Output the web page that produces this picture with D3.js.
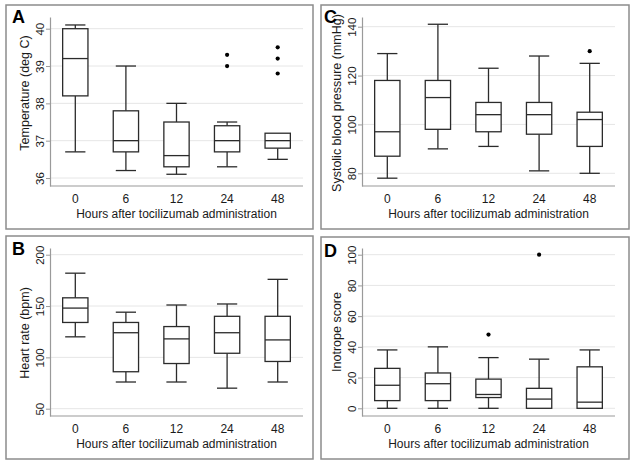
<!DOCTYPE html>
<html>
<head>
<meta charset="utf-8">
<script src="https://cdn.jsdelivr.net/npm/d3@7"></script>
<style>
  html, body { margin: 0; padding: 0; background: #fff; }
  svg { display: block; font-family: "Liberation Sans", Arial, Helvetica, sans-serif; }
</style>
</head>
<body>
<svg id="chart" width="635" height="465"></svg>
<script>
// ---------------- DATA ----------------
const categories = ["0", "6", "12", "24", "48"];
const xTitle = "Hours after tocilizumab administration";

// A: Temperature (deg C)
const tempLow  = [36.7, 36.2, 36.1, 36.3, 36.5];
const tempQ1   = [38.2, 36.7, 36.3, 36.7, 36.8];
const tempMed  = [39.2, 37.0, 36.6, 37.0, 37.0];
const tempQ3   = [40.0, 37.8, 37.5, 37.4, 37.2];
const tempHigh = [40.1, 39.0, 38.0, 37.5, 37.2];
const tempOutliers = [["24", 39.0], ["24", 39.3], ["48", 38.8], ["48", 39.2], ["48", 39.5]];
const tempTicks = [36, 37, 38, 39, 40];

// B: Heart rate (bpm)
const hrLow  = [120, 76, 76, 70, 76];
const hrQ1   = [134, 86, 94, 104, 96];
const hrMed  = [148, 124, 118, 124, 117];
const hrQ3   = [158, 134, 130, 140, 140];
const hrHigh = [182, 144, 151, 152, 176];
const hrOutliers = [];
const hrTicks = [50, 100, 150, 200];

// C: Systolic blood pressure (mmHg)
const sbpLow  = [78, 90, 91, 81, 80];
const sbpQ1   = [87, 98, 97, 96, 91];
const sbpMed  = [97, 111, 104, 104, 102];
const sbpQ3   = [118, 118, 109, 109, 105];
const sbpHigh = [129, 141, 123, 128, 125];
const sbpOutliers = [["48", 130]];
const sbpTicks = [80, 100, 120, 140];

// D: Inotrope score
const inoLow  = [0, 0, 0, 0, 0];
const inoQ1   = [5, 5, 7, 0, 0];
const inoMed  = [15, 16, 9, 6, 4];
const inoQ3   = [26, 23, 19, 13, 27];
const inoHigh = [38, 40, 33, 32, 38];
const inoOutliers = [["12", 48], ["24", 100]];
const inoTicks = [0, 20, 40, 60, 80, 100];

// ---------------- LAYOUT ----------------
const panels = [
  { letter: "A", yTitle: "Temperature (deg C)", low: tempLow, q1: tempQ1, med: tempMed, q3: tempQ3, high: tempHigh, out: tempOutliers, ticks: tempTicks,
    frame: [6, 5, 313, 229], x0: 50, x1: 303, top: 17, bottom: 186, tLo: 178, tHi: 28.7, titleCY: 93, letterPos: [12, 23] },
  { letter: "C", yTitle: "Systolic blood pressure (mmHg)", low: sbpLow, q1: sbpQ1, med: sbpMed, q3: sbpQ3, high: sbpHigh, out: sbpOutliers, ticks: sbpTicks,
    frame: [321, 5, 629, 229], x0: 362, x1: 615, top: 17, bottom: 186, tLo: 173.3, tHi: 26.7, titleCY: 103, letterPos: [324, 23] },
  { letter: "B", yTitle: "Heart rate (bpm)", low: hrLow, q1: hrQ1, med: hrMed, q3: hrQ3, high: hrHigh, out: hrOutliers, ticks: hrTicks,
    frame: [6, 236, 313, 459], x0: 50, x1: 303, top: 248, bottom: 416, tLo: 408.7, tHi: 254.7, titleCY: 333, letterPos: [12, 255] },
  { letter: "D", yTitle: "Inotrope score", low: inoLow, q1: inoQ1, med: inoMed, q3: inoQ3, high: inoHigh, out: inoOutliers, ticks: inoTicks,
    frame: [321, 237, 629, 459], x0: 362, x1: 615, top: 248, bottom: 416, tLo: 408.3, tHi: 254.7, titleCY: 332, letterPos: [324, 257] }
];

const svg = d3.select("#chart");
const textColor = "#1a1a1a";
const boxColor = "#2b2b2b";

panels.forEach(p => {
  const g = svg.append("g");

  // frame
  g.append("rect")
    .attr("x", p.frame[0]).attr("y", p.frame[1])
    .attr("width", p.frame[2] - p.frame[0]).attr("height", p.frame[3] - p.frame[1])
    .attr("fill", "#fff").attr("stroke", "#8c8c8c").attr("stroke-width", 1.5);

  // scales
  const tMin = d3.min(p.ticks), tMax = d3.max(p.ticks);
  const base = d3.scaleLinear().domain([tMin, tMax]).range([p.tLo, p.tHi]);
  const y = d3.scaleLinear().domain([base.invert(p.bottom), base.invert(p.top)]).range([p.bottom, p.top]);
  const x = d3.scaleBand().domain(categories).range([p.x0, p.x1]).paddingInner(0.5).paddingOuter(0.25);
  const bw = x.bandwidth();
  const capW = bw * 0.8;

  // gridlines
  g.append("g").selectAll("line").data(p.ticks).join("line")
    .attr("x1", p.x0).attr("x2", p.x1)
    .attr("y1", d => y(d)).attr("y2", d => y(d))
    .attr("stroke", "#e6e6e6").attr("stroke-width", 1);

  // y axis
  const yAxis = d3.axisLeft(y).tickValues(p.ticks).tickSize(4).tickSizeOuter(0).tickFormat(d3.format("d"));
  const ya = g.append("g").attr("transform", `translate(${p.x0},0)`).call(yAxis);
  ya.select(".domain").attr("stroke", "#9a9a9a").attr("stroke-width", 1.2);
  ya.selectAll(".tick line").attr("stroke", "#9a9a9a");
  ya.selectAll(".tick text")
    .attr("x", null).attr("dy", null)
    .attr("transform", "translate(-6.5,0) rotate(-90)")
    .attr("text-anchor", "middle")
    .attr("font-size", 11.5)
    .attr("fill", textColor)
    .style("font-family", '"Liberation Sans", Arial, sans-serif');

  // x axis
  const xAxis = d3.axisBottom(x).tickSize(0).tickSizeOuter(0).tickPadding(8);
  const xa = g.append("g").attr("transform", `translate(0,${p.bottom})`).call(xAxis);
  xa.select(".domain").attr("stroke", "#9a9a9a").attr("stroke-width", 1.2)
    .attr("d", `M${p.x0},0H${p.x1}`);
  xa.selectAll(".tick text").attr("font-size", 12).attr("fill", textColor)
    .style("font-family", '"Liberation Sans", Arial, sans-serif');

  // axis titles
  g.append("text")
    .attr("transform", `translate(${p.x0 - 21.5},${p.titleCY}) rotate(-90)`)
    .attr("text-anchor", "middle").attr("font-size", 12.5).attr("fill", textColor)
    .text(p.yTitle);
  g.append("text")
    .attr("x", (p.x0 + p.x1) / 2).attr("y", p.bottom + 31.5)
    .attr("text-anchor", "middle").attr("font-size", 12).attr("fill", textColor)
    .text(xTitle);

  // panel letter
  g.append("text")
    .attr("x", p.letterPos[0]).attr("y", p.letterPos[1])
    .attr("font-size", 18).attr("font-weight", "bold").attr("fill", "#000")
    .text(p.letter);

  // boxes
  const rows = categories.map((c, i) => ({ c, low: p.low[i], q1: p.q1[i], med: p.med[i], q3: p.q3[i], high: p.high[i] }));
  const bg = g.append("g").attr("stroke", boxColor).attr("stroke-width", 1.3).attr("fill", "none");
  rows.forEach(r => {
    const cx = x(r.c) + bw / 2;
    // whiskers
    if (r.high > r.q3) {
      bg.append("line").attr("x1", cx).attr("x2", cx).attr("y1", y(r.q3)).attr("y2", y(r.high));
      bg.append("line").attr("x1", cx - capW / 2).attr("x2", cx + capW / 2).attr("y1", y(r.high)).attr("y2", y(r.high));
    }
    if (r.low < r.q1) {
      bg.append("line").attr("x1", cx).attr("x2", cx).attr("y1", y(r.q1)).attr("y2", y(r.low));
      bg.append("line").attr("x1", cx - capW / 2).attr("x2", cx + capW / 2).attr("y1", y(r.low)).attr("y2", y(r.low));
    }
    bg.append("rect").attr("x", x(r.c)).attr("width", bw)
      .attr("y", y(r.q3)).attr("height", y(r.q1) - y(r.q3)).attr("fill", "#fff");
    bg.append("line").attr("x1", x(r.c)).attr("x2", x(r.c) + bw).attr("y1", y(r.med)).attr("y2", y(r.med));
  });

  // outliers
  g.append("g").selectAll("circle").data(p.out).join("circle")
    .attr("cx", d => x(d[0]) + bw / 2).attr("cy", d => y(d[1])).attr("r", 2.1)
    .attr("fill", "#000");
});
</script>
</body>
</html>
